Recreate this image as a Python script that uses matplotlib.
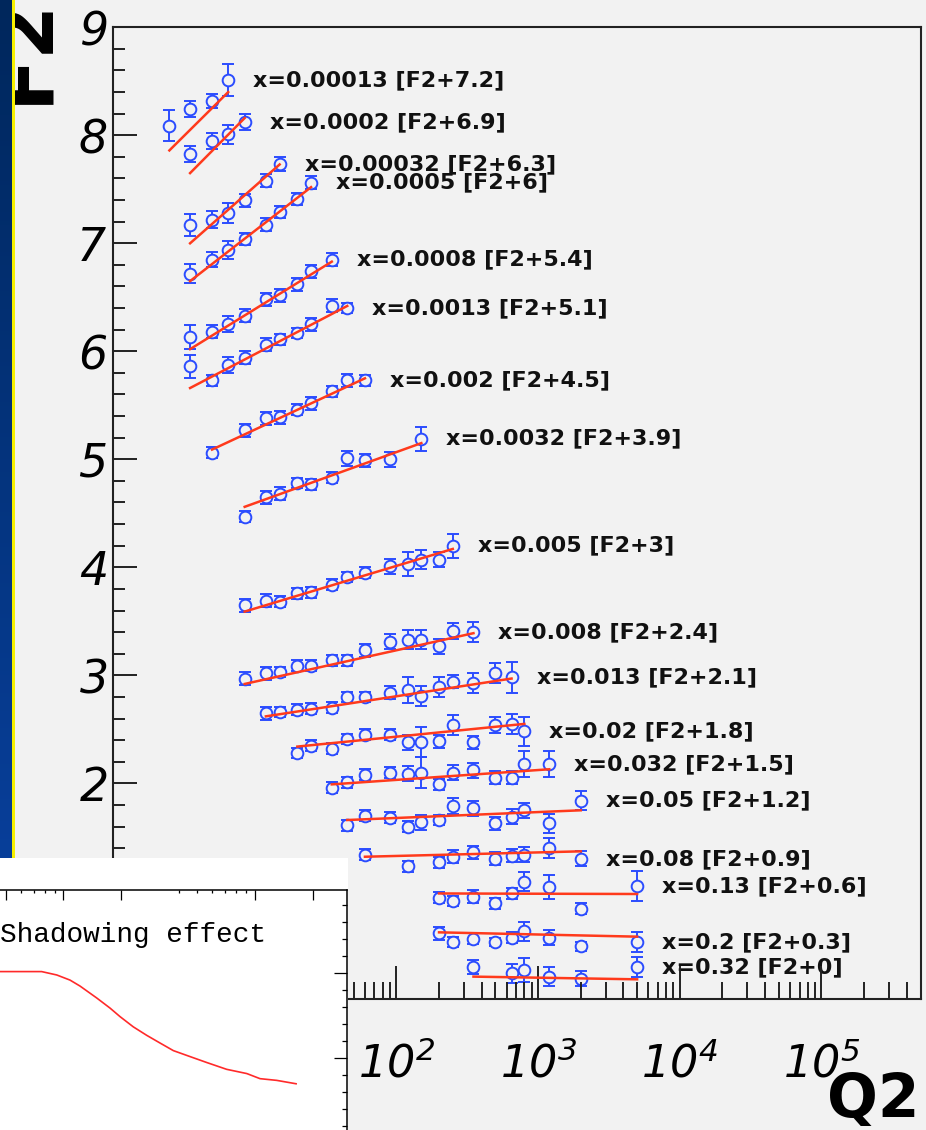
import matplotlib
matplotlib.use('Agg')
import matplotlib.pyplot as plt
import numpy as np
from matplotlib.colors import LinearSegmentedColormap
from matplotlib.patches import Rectangle
from matplotlib.ticker import LogLocator, FixedLocator, NullFormatter, MultipleLocator, FuncFormatter

# tick labels are italic, ROOT style
plt.rcParams['mathtext.fontset'] = 'custom'
plt.rcParams['mathtext.rm'] = 'DejaVu Sans:italic'
plt.rcParams['mathtext.it'] = 'DejaVu Sans:italic'

W, H = 926, 1130
BG = '#f2f2f2'
BLUE = '#2b4cff'
RED = '#ff3a1c'

# ---- F2 data, each bin shifted by a constant ----
x_bins = ["0.00013", "0.0002", "0.00032", "0.0005", "0.0008", "0.0013", "0.002", "0.0032", "0.005",
          "0.008", "0.013", "0.02", "0.032", "0.05", "0.08", "0.13", "0.2", "0.32"]
shifts = [7.2, 6.9, 6.3, 6, 5.4, 5.1, 4.5, 3.9, 3, 2.4, 2.1, 1.8, 1.5, 1.2, 0.9, 0.6, 0.3, 0]

q2 = [
    [2.5, 3.5, 5, 6.5],
    [3.5, 5, 6.5, 8.5],
    [3.5, 5, 6.5, 8.5, 12, 15],
    [3.5, 5, 6.5, 8.5, 12, 15, 20, 25],
    [3.5, 5, 6.5, 8.5, 12, 15, 20, 25, 35],
    [3.5, 5, 6.5, 8.5, 12, 15, 20, 25, 35, 45],
    [5, 8.5, 12, 15, 20, 25, 35, 45, 60],
    [8.5, 12, 15, 20, 25, 35, 45, 60, 90, 150],
    [8.5, 12, 15, 20, 25, 35, 45, 60, 90, 120, 150, 200, 250],
    [8.5, 12, 15, 20, 25, 35, 45, 60, 90, 120, 150, 200, 250, 350],
    [12, 15, 20, 25, 35, 45, 60, 90, 120, 150, 200, 250, 350, 500, 650],
    [20, 25, 35, 45, 60, 90, 120, 150, 200, 250, 350, 500, 650, 800],
    [35, 45, 60, 90, 120, 150, 200, 250, 350, 500, 650, 800, 1200],
    [45, 60, 90, 120, 150, 200, 250, 350, 500, 650, 800, 1200, 2000],
    [60, 120, 200, 250, 350, 500, 650, 800, 1200, 2000],
    [200, 250, 350, 500, 650, 800, 1200, 2000, 5000],
    [200, 250, 350, 500, 650, 800, 1200, 2000, 5000],
    [350, 650, 800, 1200, 2000, 5000],
]

f2 = [
    [8.09, 8.24, 8.32, 8.51],
    [7.83, 7.95, 8.01, 8.12],
    [7.17, 7.22, 7.28, 7.40, 7.58, 7.73],
    [6.72, 6.85, 6.94, 7.04, 7.17, 7.29, 7.41, 7.56],
    [6.13, 6.18, 6.25, 6.33, 6.48, 6.52, 6.62, 6.74, 6.85],
    [5.86, 5.73, 5.87, 5.94, 6.06, 6.11, 6.17, 6.25, 6.42, 6.40],
    [5.06, 5.27, 5.38, 5.39, 5.46, 5.52, 5.63, 5.73, 5.73],
    [4.47, 4.65, 4.68, 4.78, 4.77, 4.83, 5.01, 4.99, 5.00, 5.19],
    [3.65, 3.69, 3.68, 3.76, 3.77, 3.84, 3.91, 3.95, 4.01, 4.03, 4.07, 4.07, 4.20],
    [2.97, 3.02, 3.03, 3.09, 3.09, 3.14, 3.14, 3.23, 3.31, 3.33, 3.33, 3.27, 3.41, 3.40],
    [2.65, 2.66, 2.68, 2.69, 2.70, 2.80, 2.80, 2.84, 2.86, 2.81, 2.89, 2.94, 2.93, 3.02, 2.98],
    [2.28, 2.35, 2.32, 2.41, 2.45, 2.45, 2.38, 2.38, 2.39, 2.54, 2.38, 2.54, 2.55, 2.48],
    [1.96, 2.01, 2.08, 2.10, 2.09, 2.10, 1.99, 2.10, 2.12, 2.05, 2.05, 2.18, 2.18],
    [1.61, 1.70, 1.68, 1.60, 1.64, 1.66, 1.79, 1.77, 1.63, 1.69, 1.75, 1.63, 1.84],
    [1.34, 1.23, 1.27, 1.32, 1.36, 1.30, 1.33, 1.34, 1.40, 1.30],
    [0.94, 0.91, 0.95, 0.89, 0.98, 1.09, 1.04, 0.84, 1.05],
    [0.61, 0.53, 0.56, 0.53, 0.57, 0.63, 0.57, 0.49, 0.53],
    [0.30, 0.24, 0.27, 0.21, 0.19, 0.30],
]

f2_err = [
    [0.14, 0.075, 0.065, 0.15],
    [0.075, 0.075, 0.09, 0.075],
    [0.10, 0.075, 0.09, 0.06, 0.06, 0.065],
    [0.09, 0.065, 0.085, 0.06, 0.06, 0.06, 0.06, 0.06],
    [0.11, 0.06, 0.075, 0.06, 0.06, 0.06, 0.06, 0.06, 0.06],
    [0.11, 0.05, 0.075, 0.06, 0.06, 0.05, 0.05, 0.06, 0.06, 0.05],
    [0.05, 0.06, 0.06, 0.06, 0.05, 0.06, 0.05, 0.06, 0.05],
    [0.05, 0.06, 0.06, 0.05, 0.05, 0.05, 0.07, 0.06, 0.07, 0.11],
    [0.06, 0.06, 0.05, 0.05, 0.05, 0.05, 0.05, 0.05, 0.07, 0.11, 0.09, 0.07, 0.11],
    [0.06, 0.06, 0.05, 0.05, 0.05, 0.05, 0.05, 0.06, 0.07, 0.09, 0.09, 0.07, 0.07, 0.09],
    [0.06, 0.05, 0.05, 0.05, 0.05, 0.05, 0.05, 0.06, 0.12, 0.09, 0.09, 0.06, 0.09, 0.09, 0.14],
    [0.05, 0.05, 0.05, 0.05, 0.05, 0.05, 0.07, 0.14, 0.06, 0.09, 0.06, 0.07, 0.09, 0.13],
    [0.05, 0.05, 0.05, 0.05, 0.07, 0.14, 0.05, 0.07, 0.07, 0.06, 0.06, 0.12, 0.12],
    [0.05, 0.05, 0.05, 0.05, 0.07, 0.05, 0.07, 0.07, 0.06, 0.07, 0.07, 0.09, 0.09],
    [0.05, 0.05, 0.05, 0.06, 0.06, 0.06, 0.06, 0.07, 0.09, 0.07],
    [0.05, 0.05, 0.06, 0.05, 0.05, 0.09, 0.11, 0.05, 0.14],
    [0.06, 0.05, 0.05, 0.04, 0.05, 0.09, 0.07, 0.04, 0.09],
    [0.065, 0.09, 0.11, 0.09, 0.07, 0.09],
]

# model curve value at the first and last Q2 of each bin
fit_f2 = [
    (7.86, 8.40), (7.65, 8.16), (7.00, 7.73), (6.65, 7.52), (6.02, 6.83), (5.66, 6.42),
    (5.09, 5.75), (4.56, 5.15), (3.59, 4.17), (2.92, 3.39), (2.62, 2.97), (2.34, 2.55),
    (1.99, 2.13), (1.66, 1.75), (1.32, 1.37), (0.98, 0.975), (0.62, 0.58), (0.21, 0.185),
]

# ---- inset: shadowing ratio ----
shadow_x = [4.68e-4, 7.71e-4, 9.25e-4, 1.084e-3, 1.222e-3, 1.493e-3, 1.754e-3, 1.977e-3, 2.317e-3,
            2.723e-3, 3.192e-3, 3.75e-3, 4.58e-3, 5.60e-3, 7.11e-3, 9.06e-3, 1.062e-2, 1.297e-2, 1.637e-2]
shadow_r = [1.002, 1.002, 0.998, 0.992, 0.985, 0.971, 0.959, 0.949, 0.937,
            0.927, 0.918, 0.909, 0.902, 0.895, 0.887, 0.882, 0.876, 0.874, 0.870]


def fx(px):
    return px / W


def fy(py):
    return 1 - py / H


fig = plt.figure(figsize=(W / 100, H / 100), dpi=100, facecolor=BG)

# main frame
ax = fig.add_axes([fx(113), fy(999.3), fx(920.5) - fx(113), fy(27.3) - fy(999.3)], facecolor=BG)
ax.set_xscale('log')
ax.set_xlim(1, 5e5)
ax.set_ylim(0, 9)

for i in range(len(x_bins)):
    ax.errorbar(q2[i], f2[i], yerr=f2_err[i], fmt='o', ms=8.4, mew=1.4, mec=BLUE, mfc=BG,
                ecolor=BLUE, elinewidth=1.4, capsize=4, capthick=1.6, zorder=2)
    ax.plot([q2[i][0], q2[i][-1]], fit_f2[i], color=RED, lw=1.8, zorder=3)
    ax.annotate(f'x={x_bins[i]} [F2+{shifts[i]:g}]', xy=(q2[i][-1], f2[i][-1]),
                xytext=(18, 0), textcoords='offset points', ha='left', va='center',
                fontsize=16, fontweight='bold', color='#111111', zorder=2.2)

for s in ax.spines.values():
    s.set_linewidth(1.5)
    s.set_color('#222222')
ax.set_axisbelow(False)
ax.tick_params(which='both', direction='in', top=False, right=False, color='#222222', width=1.4)
ax.tick_params(axis='y', which='major', length=17, pad=4.3, labelsize=33)
ax.tick_params(axis='y', which='minor', length=8.6)
ax.tick_params(axis='x', which='major', length=24, pad=31, labelsize=32)
ax.tick_params(axis='x', which='minor', length=12)
ax.yaxis.set_major_locator(MultipleLocator(1))
ax.yaxis.set_minor_locator(MultipleLocator(0.2))
ax.yaxis.set_major_formatter(FuncFormatter(lambda v, p: r'$%d$' % round(v)))
ax.xaxis.set_major_locator(LogLocator(base=10, numticks=20))
ax.xaxis.set_minor_locator(LogLocator(base=10, subs=np.arange(2, 10), numticks=20))
ax.xaxis.set_minor_formatter(NullFormatter())
ax.xaxis.set_major_formatter(FuncFormatter(lambda v, p: r'$10^{%d}$' % round(np.log10(v))))

# left blue strip and yellow line
sax = fig.add_axes([0, 0, fx(12), 1], zorder=4)
strip = LinearSegmentedColormap.from_list('strip', ['#0a46ad', '#00275c'])
sax.imshow(np.linspace(0, 1, 256).reshape(-1, 1), aspect='auto', cmap=strip, extent=[0, 1, 0, 1], origin='lower')
sax.axis('off')
fig.add_artist(Rectangle((fx(12), 0), fx(3), 1, transform=fig.transFigure,
                         facecolor='#f6f000', edgecolor='none', zorder=4))

fig.text(fx(46), fy(50), 'F2', rotation=90, rotation_mode='anchor', ha='center', va='baseline',
         fontsize=56, fontweight='bold', color='black', zorder=3)
fig.text(fx(920), fy(1117), 'Q2', ha='right', va='baseline', fontsize=43, fontweight='bold',
         color='black', zorder=3)

# pasted inset
bg = fig.add_axes([0, 0, fx(348), fy(858)], facecolor='white', zorder=5)
bg.set_xticks([])
bg.set_yticks([])
for s in bg.spines.values():
    s.set_visible(False)

ins = fig.add_axes([0, 0, fx(346.7), fy(890)], facecolor='white', zorder=6)
ins.set_xscale('log')
ins.set_xlim(10 ** -3.330, 10 ** -1.522)
ins.set_ylim(0.8156, 1.098)
ins.plot(shadow_x, shadow_r, color='#ff2a2a', lw=1.2)
ins.spines['left'].set_visible(False)
ins.spines['bottom'].set_visible(False)
for side in ('top', 'right'):
    ins.spines[side].set_linewidth(1.1)
    ins.spines[side].set_color('black')
ins.xaxis.set_ticks_position('top')
ins.yaxis.set_ticks_position('right')
ins.xaxis.set_major_locator(FixedLocator([5e-4, 1e-3, 2e-3, 1e-2, 2e-2]))
ins.xaxis.set_minor_locator(FixedLocator([6e-4, 7e-4, 8e-4, 9e-4, 4e-3, 5e-3, 6e-3, 7e-3, 8e-3, 9e-3]))
ins.yaxis.set_major_locator(MultipleLocator(0.1))
ins.yaxis.set_minor_locator(MultipleLocator(0.02))
ins.tick_params(which='both', direction='in', labeltop=False, labelright=False,
                labelbottom=False, labelleft=False, width=0.9, color='black')
ins.tick_params(axis='x', which='major', length=7)
ins.tick_params(axis='x', which='minor', length=2.5)
ins.tick_params(axis='y', which='major', length=9.4)
ins.tick_params(axis='y', which='minor', length=3.6)

fig.text(fx(0), fy(942), 'Shadowing effect', family='Liberation Mono', fontsize=20,
         ha='left', va='baseline', color='black', zorder=7)

fig.savefig('out.png', dpi=100, facecolor=BG)
